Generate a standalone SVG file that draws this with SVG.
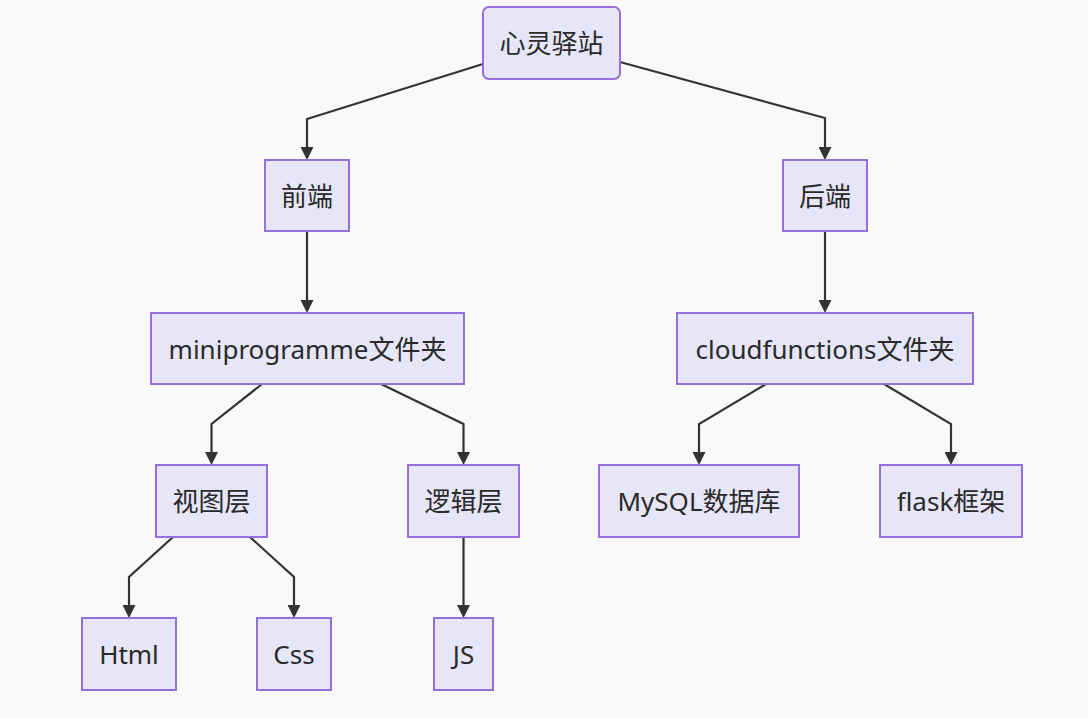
<svg xmlns="http://www.w3.org/2000/svg" width="1088" height="718" viewBox="0 0 1088 718">
<defs>
<style>
.node rect{fill:#E6E6F8;stroke:#9370DB;stroke-width:2}
.node text{font-family:"Noto Sans","Noto Sans CJK SC",sans-serif;font-size:26px;fill:#2a2a2a;text-anchor:middle;dominant-baseline:central}
.edges path{fill:none;stroke:#333;stroke-width:2.2;marker-end:url(#arrow)}
</style>
<marker id="arrow" viewBox="0 0 10 10" refX="7.7" refY="5" markerWidth="13" markerHeight="13" markerUnits="userSpaceOnUse" orient="auto">
<path d="M0,0 L10,5 L0,10 z" fill="#333"/>
</marker>
</defs>
<rect width="1088" height="718" fill="#F9F9F9"/>
<g class="edges" id="connectors">
<path d="M483,64 L307,119 L307,157"/>
<path d="M620,62 L825,118 L825,157"/>
<path d="M307,231 L307,310"/>
<path d="M825,231 L825,310"/>
<path d="M262,384 L211.5,424 L211.5,462"/>
<path d="M381,384 L463.5,424 L463.5,462"/>
<path d="M766,384 L699,424 L699,462"/>
<path d="M884,384 L951,424 L951,462"/>
<path d="M173,537 L129,577 L129,615"/>
<path d="M250,537 L294,577 L294,615"/>
<path d="M463.5,537 L463.5,615"/>
</g>
<g class="node" id="root"><rect x="483" y="7" width="137" height="72" rx="6"/><text x="551.5" y="43">心灵驿站</text></g>
<g class="node" id="frontend"><rect x="265" y="160" width="84" height="71"/><text x="307" y="195.5">前端</text></g>
<g class="node" id="backend"><rect x="783" y="160" width="84" height="71"/><text x="825" y="195.5">后端</text></g>
<g class="node" id="miniprogramme"><rect x="151" y="313" width="313" height="71"/><text x="307.5" y="348.5">miniprogramme文件夹</text></g>
<g class="node" id="cloudfunctions"><rect x="677" y="313" width="296" height="71"/><text x="825" y="348.5">cloudfunctions文件夹</text></g>
<g class="node" id="view"><rect x="156" y="465" width="111" height="72"/><text x="211.5" y="501">视图层</text></g>
<g class="node" id="logic"><rect x="408" y="465" width="111" height="72"/><text x="463.5" y="501">逻辑层</text></g>
<g class="node" id="mysql"><rect x="599" y="465" width="200" height="72"/><text x="699" y="501">MySQL数据库</text></g>
<g class="node" id="flask"><rect x="880" y="465" width="142" height="72"/><text x="951" y="501">flask框架</text></g>
<g class="node" id="html"><rect x="82" y="618" width="94" height="72"/><text x="129" y="654">Html</text></g>
<g class="node" id="css"><rect x="257" y="618" width="74" height="72"/><text x="294" y="654">Css</text></g>
<g class="node" id="js"><rect x="434" y="618" width="59" height="72"/><text x="463.5" y="654">JS</text></g>
</svg>
